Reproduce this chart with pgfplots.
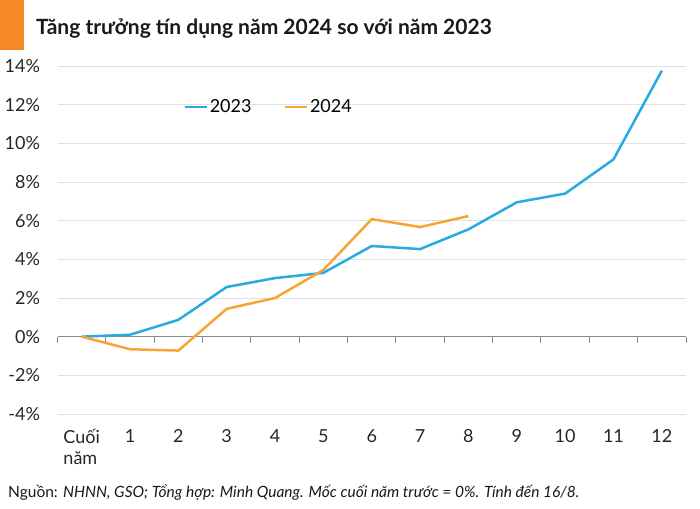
\documentclass[border=0pt]{standalone}
\usepackage{fontspec}
\setmainfont{Lato}
\usepackage{pgfplots}
\pgfplotsset{compat=1.18}

\definecolor{blue23}{HTML}{29ABE2}
\definecolor{orange24}{HTML}{F8A435}
\definecolor{barorange}{HTML}{F58A24}
\definecolor{gridgray}{HTML}{E0E0E0}
\definecolor{axgray}{HTML}{8C8C8C}

\begin{document}
\begin{tikzpicture}[x=1pt,y=1pt]
\path[use as bounding box] (0,0) rectangle (700,508);
\fill[barorange] (0,458) rectangle (24,508);
\node[anchor=base west, font=\bfseries\fontsize{21}{25}\selectfont, text=black!90, inner sep=0pt] at (36,473) {Tăng trưởng tín dụng năm 2024 so với năm 2023};

\begin{axis}[
  at={(57.5pt,94pt)}, anchor=south west,
  width=628.5pt, height=348pt, scale only axis,
  xmin=-0.5, xmax=12.5, ymin=-4, ymax=14,
  xtick={0,1,...,12},
  xticklabels={{Cuối\\năm},1,2,3,4,5,6,7,8,9,10,11,12},
  ytick={-4,-2,...,14},
  yticklabel={\pgfmathprintnumber{\tick}\%},
  /pgf/number format/assume math mode=true,
  axis line style={draw=none},
  major tick length=0pt,
  ymajorgrids, grid style={gridgray, line width=0.8pt},
  tick label style={font=\fontsize{18}{21}\selectfont, text=black!85},
  xticklabel style={align=left, anchor=north, yshift=-12pt},
  yticklabel style={anchor=east, xshift=-14pt},
  legend style={at={(0.195,0.882)}, anchor=west, draw=none, fill=none,
    legend columns=2, font=\fontsize{18}{21}\selectfont,
    /tikz/every even column/.append style={column sep=30pt}},
  legend image code/.code={\draw[#1, line width=2.5pt] (0pt,0pt) -- (22pt,0pt);},
  every axis plot/.append style={line width=2.5pt, line join=round},
  clip=false,
]
\draw[axgray, line width=1pt] (axis cs:-0.5,0) -- (axis cs:12.5,0);
\pgfplotsinvokeforeach{0,...,13}{
  \draw[axgray, line width=1pt] (axis cs:#1-0.5,0) -- ++(0pt,-6pt);
}
\addplot[blue23] coordinates {
  (0,0) (1,0.10) (2,0.87) (3,2.57) (4,3.03) (5,3.30) (6,4.69)
  (7,4.53) (8,5.55) (9,6.95) (10,7.40) (11,9.17) (12,13.76)
};
\addlegendentry{2023}
\addplot[orange24] coordinates {
  (0,0) (1,-0.65) (2,-0.72) (3,1.44) (4,2.00) (5,3.45) (6,6.08)
  (7,5.67) (8,6.24)
};
\addlegendentry{2024}
\end{axis}

\node[anchor=base west, font=\fontsize{15.5}{18}\selectfont, text=black!90, inner sep=0pt] at (8,11) {Nguồn: \textit{NHNN, GSO; Tổng hợp: Minh Quang. Mốc cuối năm trước = 0\%. Tính đến 16/8.}};
\end{tikzpicture}
\end{document}
